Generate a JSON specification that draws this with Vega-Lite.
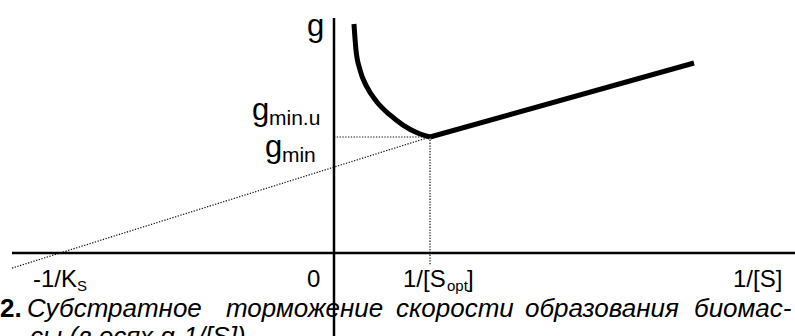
{
  "$schema": "https://vega.github.io/schema/vega-lite/v6.json",
  "width": 795,
  "height": 336,
  "padding": 0,
  "autosize": "none",
  "background": "white",
  "config": {"view": {"stroke": null}, "text": {"font": "Liberation Sans", "color": "black", "align": "left", "baseline": "alphabetic"}},
  "encoding": {
    "x": {"field": "x", "type": "quantitative", "scale": {"domain": [-3.479, 4.802], "nice": false, "zero": false}, "axis": null},
    "y": {"field": "y", "type": "quantitative", "scale": {"domain": [-0.7155, 2.181], "nice": false, "zero": false}, "axis": null}
  },
  "layer": [
    {
      "data": {"values": [
        {"x": 0, "y": 1, "x2": 1, "y2": 1},
        {"x": 1, "y": 1, "x2": 1, "y2": -0.103},
        {"x": -3.354, "y": -0.13, "x2": 1, "y2": 1}
      ]},
      "mark": {"type": "rule", "color": "#111", "strokeWidth": 1.2, "strokeDash": [1.3, 1.5]},
      "encoding": {"x2": {"field": "x2"}, "y2": {"field": "y2"}}
    },
    {
      "data": {"values": [
        {"x": -3.354, "y": 0, "x2": 4.802, "y2": 0},
        {"x": 0, "y": 2.026, "x2": 0, "y2": -0.7155}
      ]},
      "mark": {"type": "rule", "color": "black", "strokeWidth": 2.5},
      "encoding": {"x2": {"field": "x2"}, "y2": {"field": "y2"}}
    },
    {
      "data": {"values": [
        {"x": 0.208, "y": 1.974},
        {"x": 0.229, "y": 1.75},
        {"x": 0.271, "y": 1.578},
        {"x": 0.341, "y": 1.434},
        {"x": 0.445, "y": 1.304},
        {"x": 0.583, "y": 1.19},
        {"x": 0.719, "y": 1.103},
        {"x": 0.866, "y": 1.037},
        {"x": 1.0, "y": 1.0}
      ]},
      "mark": {"type": "line", "color": "black", "strokeWidth": 5, "interpolate": "monotone", "strokeCap": "butt", "strokeJoin": "round"},
      "encoding": {}
    },
    {
      "data": {"values": [
        {"x": 1.0, "y": 1.0},
        {"x": 3.75, "y": 1.638}
      ]},
      "mark": {"type": "line", "color": "black", "strokeWidth": 5, "strokeCap": "butt", "strokeJoin": "round"},
      "encoding": {}
    },
    {
      "data": {"values": [
        {"x": -0.281, "y": 1.871, "text": "g"},
        {"x": -0.854, "y": 1.147, "text": "g"},
        {"x": -0.719, "y": 0.828, "text": "g"}
      ]},
      "mark": {"type": "text", "fontSize": 31},
      "encoding": {"text": {"field": "text"}}
    },
    {
      "data": {"values": [
        {"x": -0.677, "y": 1.103, "text": "min.u"},
        {"x": -0.542, "y": 0.784, "text": "min"}
      ]},
      "mark": {"type": "text", "fontSize": 21},
      "encoding": {"text": {"field": "text"}}
    },
    {
      "data": {"values": [
        {"x": -3.135, "y": -0.293, "text": "-1/K"},
        {"x": -0.281, "y": -0.293, "text": "0"},
        {"x": 0.719, "y": -0.293, "text": "1/[S"},
        {"x": 1.385, "y": -0.293, "text": "]"},
        {"x": 4.156, "y": -0.293, "text": "1/[S]"}
      ]},
      "mark": {"type": "text", "fontSize": 24},
      "encoding": {"text": {"field": "text"}}
    },
    {
      "data": {"values": [
        {"x": -2.677, "y": -0.328, "text": "S"},
        {"x": 1.177, "y": -0.328, "text": "opt"}
      ]},
      "mark": {"type": "text", "fontSize": 15},
      "encoding": {"text": {"field": "text"}}
    },
    {
      "data": {"values": [
        {"x": -3.479, "y": -0.552, "text": "2."}
      ]},
      "mark": {"type": "text", "fontSize": 26, "fontWeight": "bold"},
      "encoding": {"text": {"field": "text"}}
    },
    {
      "data": {"values": [
        {"x": -3.198, "y": -0.552, "text": "Субстратное"},
        {"x": -1.125, "y": -0.552, "text": "торможение"},
        {"x": 0.646, "y": -0.552, "text": "скорости"},
        {"x": 1.99, "y": -0.552, "text": "образования"},
        {"x": 3.75, "y": -0.552, "text": "биомас-"},
        {"x": -3.167, "y": -0.793, "text": "сы (в осях g-1/[S])"}
      ]},
      "mark": {"type": "text", "fontSize": 26, "fontStyle": "italic"},
      "encoding": {"text": {"field": "text"}}
    }
  ]
}
